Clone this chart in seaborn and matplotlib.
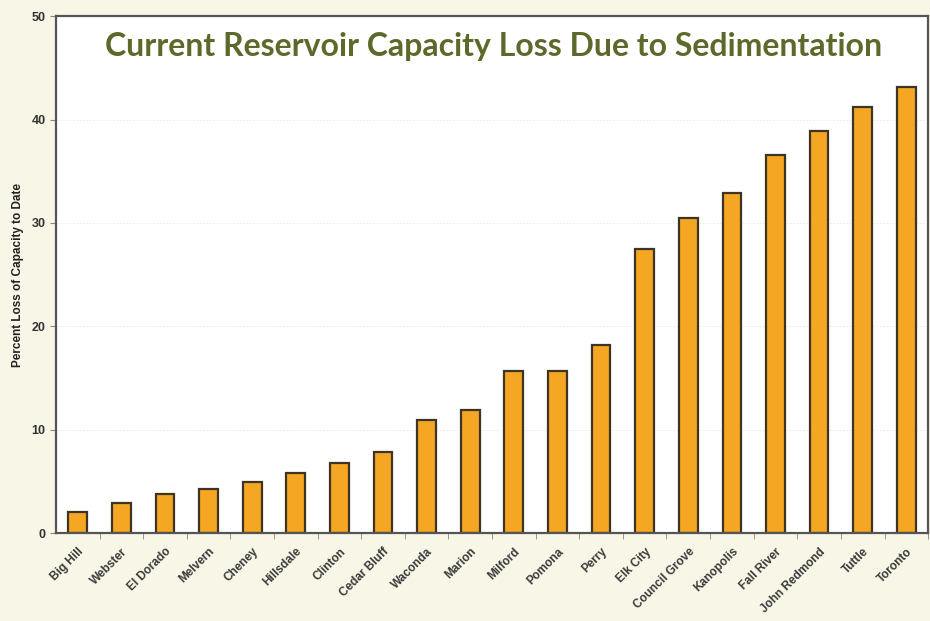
import pandas as pd
import matplotlib.pyplot as plt
import seaborn as sns
from matplotlib.ticker import FixedLocator

# reservoir data
reservoirs = ['Big Hill', 'Webster', 'El Dorado', 'Melvern', 'Cheney', 'Hillsdale',
              'Clinton', 'Cedar Bluff', 'Waconda', 'Marion', 'Milford', 'Pomona',
              'Perry', 'Elk City', 'Council Grove', 'Kanopolis', 'Fall River',
              'John Redmond', 'Tuttle', 'Toronto']
loss_pct = [2.0, 2.9, 3.8, 4.3, 4.9, 5.8, 6.8, 7.8, 10.9, 11.9, 15.7, 15.7,
            18.2, 27.5, 30.5, 32.9, 36.6, 38.9, 41.2, 43.1]
y_ticks = [0, 10, 20, 30, 40, 50]

df = pd.DataFrame({'Reservoir': reservoirs, 'Loss': loss_pct})

sns.set_style('white')
plt.rcParams['font.family'] = 'Liberation Sans'

bg = '#f8f6e6'
fig = plt.figure(figsize=(9.3, 6.21), dpi=100, facecolor=bg)
ax = fig.add_axes([0.0602, 0.1417, 0.9378, 0.8323])
ax.set_facecolor('white')

sns.barplot(data=df, x='Reservoir', y='Loss', color='#f5a623', width=0.43,
            edgecolor='#3d3424', linewidth=1.6, saturation=1, ax=ax)

ax.set_ylim(0, 50)
ax.set_xlim(-0.5, len(reservoirs) - 0.5)
ax.set_yticks(y_ticks)
ax.set_yticklabels([str(t) for t in y_ticks], fontsize=9, fontweight='bold', color='#333333')
ax.yaxis.grid(True, color='#e8e8e8', linewidth=0.6, linestyle=(0, (2, 2)))
ax.set_axisbelow(True)

ax.set_xticks(range(len(reservoirs)))
ax.set_xticklabels(reservoirs, rotation=45, ha='right', rotation_mode='anchor',
                   fontsize=8.5, fontweight='bold', color='#3a3a3a')
ax.tick_params(axis='x', which='major', length=0, pad=9)
ax.xaxis.set_minor_locator(FixedLocator([i + 0.5 for i in range(len(reservoirs))]))
ax.tick_params(axis='x', which='minor', length=4, color='#888888', bottom=True)
ax.tick_params(axis='y', length=4, color='#888888', left=True)

ax.set_xlabel('')
ax.set_ylabel('Percent Loss of Capacity to Date', fontsize=8.5, fontweight='bold',
              color='#222222', labelpad=5)

for side in ['left', 'bottom', 'top', 'right']:
    ax.spines[side].set_color('#555555')
    ax.spines[side].set_linewidth(1.6)

fig.text(0.531, 0.925, 'Current Reservoir Capacity Loss Due to Sedimentation',
         ha='center', va='center', fontsize=23, fontweight='bold',
         color='#5b6a2a', family='Lato')

plt.savefig('out.png', dpi=100, facecolor=bg)
plt.close()
